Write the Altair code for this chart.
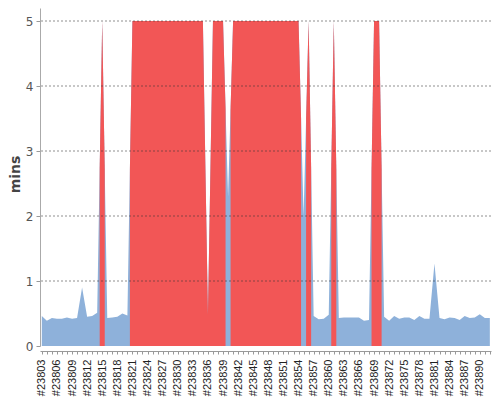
import altair as alt
import pandas as pd

# ---------------- data ----------------
build_ids = list(range(23803, 23893))
durations = [
    0.46, 0.39, 0.43, 0.42, 0.42, 0.44, 0.42, 0.43, 0.90, 0.45,   # 23803-23812
    0.46, 0.51, 5.0, 0.43, 0.44, 0.45, 0.50, 0.47,                # 23813-23820
    5.0, 5.0, 5.0, 5.0, 5.0, 5.0, 5.0, 5.0, 5.0, 5.0,             # 23821-23830
    5.0, 5.0, 5.0, 5.0, 5.0, 0.48, 5.0, 5.0, 5.0, 2.3,            # 23831-23840
    5.0, 5.0, 5.0, 5.0, 5.0, 5.0, 5.0, 5.0, 5.0, 5.0,             # 23841-23850
    5.0, 5.0, 5.0, 5.0, 2.0, 5.0, 0.46, 0.41, 0.42, 0.48,         # 23851-23860
    5.0, 0.43, 0.44, 0.44, 0.44, 0.44, 0.39, 0.40, 5.0, 5.0,      # 23861-23870
    0.45, 0.39, 0.46, 0.42, 0.44, 0.44, 0.40, 0.46, 0.42, 0.42,   # 23871-23880
    1.27, 0.43, 0.41, 0.44, 0.43, 0.40, 0.46, 0.43, 0.44, 0.49,   # 23881-23890
    0.43, 0.43,                                                   # 23891-23892
]
failed_builds = (
    [23815]
    + list(range(23821, 23840))
    + list(range(23841, 23855))
    + [23856, 23861, 23869, 23870]
)
grid_values = [1, 2, 3, 4, 5]

BLUE = "#8EB1DA"
RED = "#F25656"

# ---------------- tables ----------------
blue_df = pd.DataFrame({"x": build_ids, "y": durations})

failed = [b in failed_builds for b in build_ids]
rows = []
n = len(build_ids)
i = 0
run = 0
while i < n:
    if failed[i]:
        j = i
        while j + 1 < n and failed[j + 1]:
            j += 1
        left = (durations[i - 1] + durations[i]) / 2 if i > 0 else durations[i]
        rows.append({"x": build_ids[i] - 0.5, "y": left, "run": run})
        for k in range(i, j + 1):
            rows.append({"x": build_ids[k], "y": durations[k], "run": run})
        right = (durations[j] + durations[j + 1]) / 2 if j + 1 < n else durations[j]
        rows.append({"x": build_ids[j] + 0.5, "y": right, "run": run})
        run += 1
        i = j + 1
    else:
        i += 1
red_df = pd.DataFrame(rows)
grid_df = pd.DataFrame({"g": grid_values})

# ---------------- encodings ----------------
x_enc = alt.X(
    "x:Q",
    scale=alt.Scale(domain=[23802.64, 23892.23], nice=False, zero=False),
    axis=alt.Axis(
        title=None,
        values=build_ids,
        labelExpr="(datum.value - 23803) % 3 == 0 ? '#' + datum.value : ''",
        labelAngle=270,
        labelAlign="right",
        labelBaseline="middle",
        labelFont="Liberation Sans",
        labelFontSize=11,
        labelColor="#222",
        labelPadding=5,
        labelOverlap=False,
        labelFlush=False,
        tickSize=3,
        tickColor="#999",
        domainColor="#999",
        offset=5,
        grid=False,
    ),
)
y_scale = alt.Scale(domain=[0, 5.2], nice=False, zero=True)
y_enc = alt.Y(
    "y:Q",
    scale=y_scale,
    stack=None,
    axis=alt.Axis(
        title="mins",
        values=[0, 1, 2, 3, 4, 5],
        format="d",
        grid=False,
        labelFont="DejaVu Sans",
        labelFontSize=12,
        labelColor="#555",
        labelPadding=3,
        tickSize=4,
        tickColor="#999",
        domainColor="#aaa",
        titleFont="DejaVu Sans",
        titleFontSize=14,
        titleFontWeight="bold",
        titleColor="#444",
        titleX=-21,
        titleY=166,
        titleAlign="center",
        titleBaseline="alphabetic",
        titleAngle=270,
    ),
)

blue = alt.Chart(blue_df).mark_area(color=BLUE, opacity=1).encode(x=x_enc, y=y_enc)
red = alt.Chart(red_df).mark_area(color=RED, opacity=1).encode(
    x=x_enc, y=y_enc, detail="run:N"
)
grid = alt.Chart(grid_df).mark_rule(
    color="#333", opacity=0.55, strokeDash=[2, 2], strokeWidth=1
).encode(y=alt.Y("g:Q", scale=y_scale))

chart = (
    alt.layer(blue, red, grid)
    .properties(
        width=451,
        height=338,
        autosize=alt.AutoSizeParams(type="none"),
        padding={"left": 32, "top": 0, "right": 1, "bottom": 54},
    )
    .configure_view(stroke=None)
)

chart.save("out.html", embed_options={"renderer": "svg", "actions": False})
